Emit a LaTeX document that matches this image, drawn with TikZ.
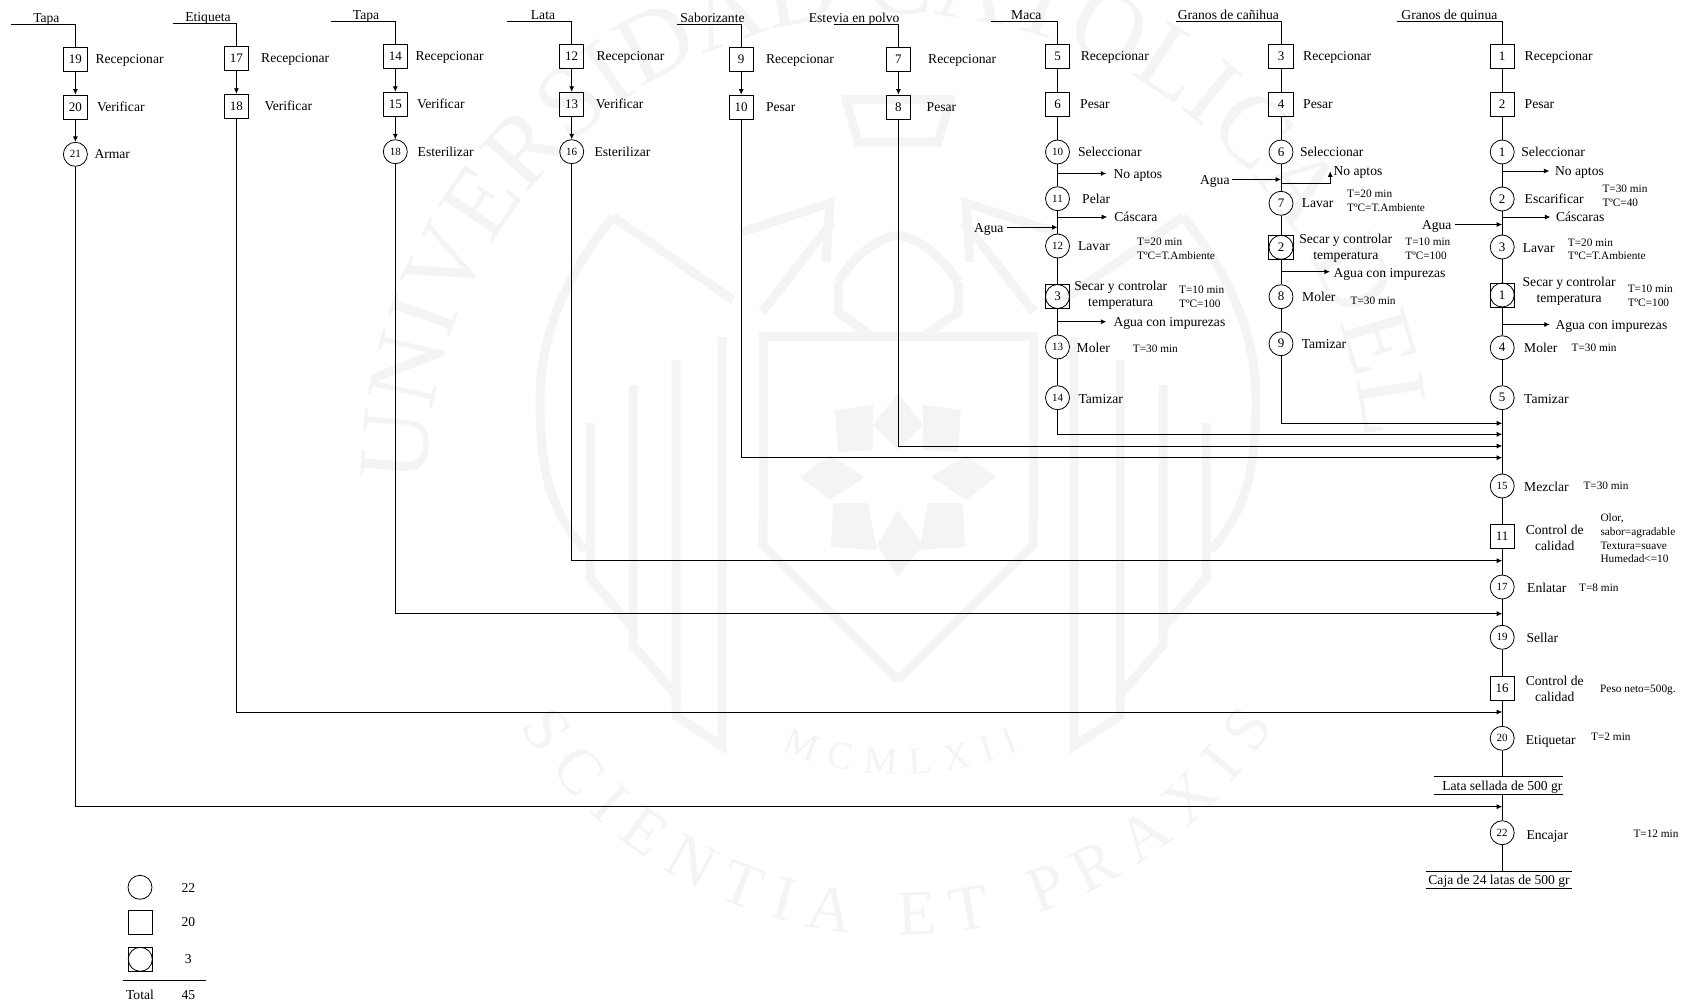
\documentclass[tikz,border=0pt]{standalone}
\usepackage{fontspec}
\setmainfont{Liberation Serif}
\usetikzlibrary{arrows.meta,decorations.text}
\newcommand\fl{\fontsize{13.6}{16}\selectfont}
\newcommand\fs{\fontsize{11.3}{13.7}\selectfont}
\newcommand\ft{\fontsize{11}{12}\selectfont}
\newcommand\fn{\fontsize{13}{15}\selectfont}
\newcommand\wmbig{\fontsize{100}{100}\selectfont\color{wmc}}
\newcommand\wmmid{\fontsize{64}{64}\selectfont\color{wmc}}
\newcommand\wmsm{\fontsize{38}{38}\selectfont\color{wmc}}
\definecolor{wmc}{gray}{0.955}
\newcommand\wmhalf{%
  \draw[wml] (613,217) .. controls (570,270) and (540,330) .. (540,400) .. controls (540,470) and (550,510) .. (585,550);
  \draw[wml] (613,217) -- (733,300);
  \draw[wml] (742,232) -- (830,203) -- (826,262);
  \draw[wml] (762,312) -- (832,222);
  \draw[wml] (838,282) .. controls (855,255) and (875,240) .. (898,235);
  \draw[wml] (838,282) -- (838,312) -- (872,336);
  \draw[wml] (763,520) -- (763,336) -- (898,336);
  \draw[wml] (590,423) -- (590,578) -- (633,628) -- (633,385);
  \draw[wml] (633,628) -- (633,645) -- (676,695) -- (676,360);
  \draw[wml] (676,695) -- (676,716) -- (722,746) -- (722,337);
  \draw[wml] (763,520) -- (763,545) -- (898,680);
  \draw[wml] (845,97) -- (858,142) -- (898,142);
  \draw[wml] (842,100) -- (898,100);
  \fill[wmc] (835,410) -- (873,405) -- (873,450) -- (838,452) -- cycle;
  \fill[wmc] (800,477) -- (830,455) -- (865,477) -- (830,500) -- cycle;
  \fill[wmc] (833,503) -- (868,503) -- (877,550) -- (831,547) -- cycle;
}
\tikzset{
  wml/.style={draw=wmc,line width=9pt,line join=miter},
  link/.style={draw=black,line width=.8pt},
  arr/.style={link,-{Latex[length=5.5pt,width=5pt]}},
  sq/.style={draw=black,line width=.8pt,rectangle,minimum width=24.3,minimum height=24,inner sep=0,font=\fn},
  cir/.style={draw=black,line width=.8pt,circle,minimum size=24,inner sep=0,font=\fn},
  cirs/.style={cir,font=\ft},
  lab/.style={anchor=west,inner sep=0,font=\fl,text height=11pt,text depth=1pt},
  tag/.style={anchor=west,inner sep=0,font=\fs,text height=8.5pt,text depth=1.5pt},
  tagg/.style={anchor=west,inner sep=0,font=\fs,align=left,yshift=-1.5pt},
  labc/.style={inner sep=0,font=\fl,align=center,yshift=-1.5pt},
  head/.style={lab,anchor=center,text height=10.5pt,text depth=1.5pt},
  rulebox/.style={inner sep=0,rectangle},
}
\begin{document}
\begin{tikzpicture}[x=1pt,y=-1pt]
\useasboundingbox (0,0) rectangle (1682,1003);
% watermark
\begin{scope}
\clip (0,0) rectangle (1682,1003);
\wmhalf
\begin{scope}[cm={-1,0,0,1,(1796pt,0pt)}]
\wmhalf
\end{scope}
\fill[wmc] (898,393) -- (923,425) -- (898,450) -- (873,425) -- cycle;
\fill[wmc] (898,510) -- (923,545) -- (898,577) -- (877,545) -- cycle;
\path[decorate,decoration={text along path,text align={fit to path},text={|\wmbig|UNIVERSIDAD CATOLICA DEL PERU}}]
  (427,484) .. controls (427,224) and (637,14) .. (897,14) .. controls (1157,14) and (1367,224) .. (1367,484);
\path[decorate,decoration={text along path,text align={fit to path},text={|\wmmid|SCIENTIA ET PRAXIS}}]
  (520,726) .. controls (694,1005) and (1100,1005) .. (1274,726);
\path[decorate,decoration={text along path,text align={fit to path},text={|\wmsm|MCMLXII}}]
  (782,750) .. controls (850,782) and (950,782) .. (1020,750);
\end{scope}

% ---------- Tapa (A)
\node[head] (hA) at (46.4,18) {Tapa};
\coordinate (oA) at (10.7,24);
\node[sq] (a19) at (75.4,59) {19};
\node[sq] (a20) at (75.4,107) {20};
\node[cirs] (a21) at (75.4,154.3) {21};
\node[lab] at (95.4,58.7) {Recepcionar};
\node[lab] at (96.8,106.7) {Verificar};
\node[lab] at (94.3,154) {Armar};
\draw[link] (oA) -| (a19);
\draw[arr] (a19) -- (a20);
\draw[arr] (a20) -- (a21);
% ---------- Etiqueta (B)
\node[head] (hB) at (208,17) {Etiqueta};
\coordinate (oB) at (172.5,23.7);
\node[sq] (b17) at (236.4,58.3) {17};
\node[sq] (b18) at (236.4,106.2) {18};
\node[lab] at (261,57.7) {Recepcionar};
\node[lab] at (264.3,105.7) {Verificar};
\draw[link] (oB) -| (b17);
\draw[arr] (b17) -- (b18);
% ---------- Tapa (C)
\node[head] (hC) at (366,14.7) {Tapa};
\coordinate (oC) at (330.7,21.3);
\node[sq] (c14) at (395.3,56.3) {14};
\node[sq] (c15) at (395.3,104.2) {15};
\node[cirs] (c18) at (395.3,151.7) {18};
\node[lab] at (415.4,55.7) {Recepcionar};
\node[lab] at (416.8,103.7) {Verificar};
\node[lab] at (417.5,151.7) {Esterilizar};
\draw[link] (oC) -| (c14);
\draw[arr] (c14) -- (c15);
\draw[arr] (c15) -- (c18);
% ---------- Lata (D)
\node[head] (hD) at (543,15) {Lata};
\coordinate (oD) at (507,21.3);
\node[sq] (d12) at (571.7,56.3) {12};
\node[sq] (d13) at (571.7,104.2) {13};
\node[cirs] (d16) at (571.7,151.7) {16};
\node[lab] at (596.3,55.7) {Recepcionar};
\node[lab] at (595.7,103.7) {Verificar};
\node[lab] at (594.3,151.7) {Esterilizar};
\draw[link] (oD) -| (d12);
\draw[arr] (d12) -- (d13);
\draw[arr] (d13) -- (d16);
% ---------- Saborizante (E)
\node[head] (hE) at (712.5,18) {Saborizante};
\coordinate (oE) at (676.7,24.3);
\node[sq] (e9) at (741.2,59) {9};
\node[sq] (e10) at (741.2,107) {10};
\node[lab] at (765.8,59) {Recepcionar};
\node[lab] at (765.8,107) {Pesar};
\draw[link] (oE) -| (e9);
\draw[arr] (e9) -- (e10);
% ---------- Estevia (F)
\node[head] (hF) at (854.2,18) {Estevia en polvo};
\coordinate (oF) at (834,24.3);
\node[sq] (f7) at (898.4,59) {7};
\node[sq] (f8) at (898.4,107) {8};
\node[lab] at (928,59) {Recepcionar};
\node[lab] at (926.5,107) {Pesar};
\draw[link] (oF) -| (f7);
\draw[arr] (f7) -- (f8);
% ---------- Maca (G)
\node[head] (hG) at (1026.3,15) {Maca};
\coordinate (oG) at (990.8,21.3);
\node[sq] (g5) at (1057.5,56.3) {5};
\node[sq] (g6) at (1057.5,104) {6};
\node[cirs] (g10) at (1057.5,152) {10};
\node[cirs] (g11) at (1057.5,198.7) {11};
\node[cirs] (g12) at (1057.5,246) {12};
\node[sq] (g3s) at (1057.5,296.5) {};
\node[cir] (g3) at (1057.5,296.5) {3};
\node[cirs] (g13) at (1057.5,347) {13};
\node[cirs] (g14) at (1057.5,397.7) {14};
\node[lab] at (1080.6,55.7) {Recepcionar};
\node[lab] at (1080,104) {Pesar};
\node[lab] at (1077.9,152) {Seleccionar};
\node[lab] at (1082,199) {Pelar};
\node[lab] at (1077.9,246) {Lavar};
\node[tagg] at (1137,247) {T=20 min\\TºC=T.Ambiente};
\node[labc] at (1120.7,293.6) {Secar y controlar\\temperatura};
\node[tagg] at (1179,295.5) {T=10 min\\TºC=100};
\node[lab] at (1076.5,347) {Moler};
\node[tag] at (1132.7,349.3) {T=30 min};
\node[lab] at (1078.3,398) {Tamizar};
\node[lab] (gNo) at (1113.3,173.5) {No aptos};
\node[lab] (gCa) at (1114.2,217) {Cáscara};
\node[lab] (gAg) at (973.8,227.3) {Agua};
\node[lab] (gIm) at (1113.3,321.7) {Agua con impurezas};
\coordinate (gNo0) at (1057.5,173.5);
\coordinate (gCa0) at (1057.5,217);
\coordinate (gAg1) at (1057.5,227.3);
\coordinate (gIm0) at (1057.5,321.7);
\draw[link] (oG) -| (g5);
\draw[link] (g5) -- (g6);
\draw[link] (g6) -- (g10);
\draw[link] (g10) -- (g11);
\draw[link] (g11) -- (g12);
\draw[link] (g12) -- (g3);
\draw[link] (g3) -- (g13);
\draw[link] (g13) -- (g14);
\draw[arr,shorten >=7pt] (gNo0) -- (gNo.west);
\draw[arr,shorten >=7pt] (gCa0) -- (gCa.west);
\draw[arr,shorten >=7pt] (gIm0) -- (gIm.west);
\draw[arr,shorten <=3pt] (gAg.east) -- (gAg1);
% ---------- Canihua (H)
\node[head] (hH) at (1228.4,15) {Granos de cañihua};
\coordinate (oH) at (1175.5,21.3);
\node[sq] (h3) at (1281,56.3) {3};
\node[sq] (h4) at (1281,104) {4};
\node[cir] (h6) at (1281,152) {6};
\node[cir] (h7) at (1281,203.3) {7};
\node[sq] (h2s) at (1281,247.3) {};
\node[cir] (h2) at (1281,247.3) {2};
\node[cir] (h8) at (1281,296.7) {8};
\node[cir] (h9) at (1281,343.7) {9};
\node[lab] at (1303,55.7) {Recepcionar};
\node[lab] at (1303,104) {Pesar};
\node[lab] at (1299.8,152) {Seleccionar};
\node[lab] at (1301.6,203) {Lavar};
\node[tagg] at (1347,199) {T=20 min\\TºC=T.Ambiente};
\node[labc] at (1345.8,247) {Secar y controlar\\temperatura};
\node[tagg] at (1405.2,247.5) {T=10 min\\TºC=100};
\node[lab] at (1302,296.7) {Moler};
\node[tag] at (1350.4,300.7) {T=30 min};
\node[lab] at (1301.6,343.7) {Tamizar};
\node[lab] (hNo) at (1333.4,171) {No aptos};
\node[lab] (hAg) at (1199.9,179.5) {Agua};
\node[lab] (hIm) at (1333.4,272.5) {Agua con impurezas};
\coordinate (hAg1) at (1281,179.5);
\coordinate (hNo0) at (1281,183.3);
\coordinate (hNo1) at (1330.2,171.3);
\coordinate (hIm0) at (1281,271.7);
\draw[link] (oH) -| (h3);
\draw[link] (h3) -- (h4);
\draw[link] (h4) -- (h6);
\draw[link] (h6) -- (h7);
\draw[link] (h7) -- (h2);
\draw[link] (h2) -- (h8);
\draw[link] (h8) -- (h9);
\draw[arr,shorten <=2pt] (hAg.east) -- (hAg1);
\draw[arr] (hNo0) -| (hNo1);
\draw[arr,shorten >=3.5pt] (hIm0) -- (hIm0 -| hIm.west);
% ---------- Quinua (I)
\node[head] (hI) at (1449.4,15) {Granos de quinua};
\coordinate (oI) at (1397,21.3);
\node[sq] (i1) at (1502.2,56.3) {1};
\node[sq] (i2) at (1502.2,104) {2};
\node[cir] (q1) at (1502.2,152) {1};
\node[cir] (q2) at (1502.2,199) {2};
\node[cir] (q3) at (1502.2,247) {3};
\node[sq] (t1s) at (1502.2,295) {};
\node[cir] (t1) at (1502.2,295) {1};
\node[cir] (q4) at (1502.2,347.7) {4};
\node[cir] (q5) at (1502.2,397.7) {5};
\node[cirs] (q15) at (1502.2,486) {15};
\node[sq] (i11) at (1502.2,536.7) {11};
\node[cirs] (q17) at (1502.2,587) {17};
\node[cirs] (q19) at (1502.2,637.3) {19};
\node[sq] (i16) at (1502.2,688.3) {16};
\node[cirs] (q20) at (1502.2,738.3) {20};
\node[rulebox,minimum width=128.7,minimum height=17] (lataB) at (1498.7,785.5) {};
\node[head] (lataT) at (1502.4,785.7) {Lata sellada de 500 gr};
\node[cirs] (q22) at (1502.2,832.7) {22};
\node[rulebox,minimum width=145.4,minimum height=16.7] (cajaB) at (1499,879.6) {};
\node[head] (cajaT) at (1499,879.6) {Caja de 24 latas de 500 gr};
\draw[link] (lataB.north west) -- (lataB.north east);
\draw[link] (lataB.south west) -- (lataB.south east);
\draw[link] (cajaB.north west) -- (cajaB.north east);
\draw[link] (cajaB.south west) -- (cajaB.south east);
\node[lab] at (1524.5,55.7) {Recepcionar};
\node[lab] at (1524.5,104) {Pesar};
\node[lab] at (1521.2,152) {Seleccionar};
\node[lab] at (1524.5,199) {Escarificar};
\node[tagg] at (1602.3,194.5) {T=30 min\\TºC=40};
\node[lab] at (1522.6,248) {Lavar};
\node[tagg] at (1567.7,247.8) {T=20 min\\TºC=T.Ambiente};
\node[labc] at (1569.1,290) {Secar y controlar\\temperatura};
\node[tagg] at (1627.6,294.5) {T=10 min\\TºC=100};
\node[lab] at (1524,347) {Moler};
\node[tag] at (1571.4,348) {T=30 min};
\node[lab] at (1524,398) {Tamizar};
\node[lab] at (1524,486) {Mezclar};
\node[tag] at (1583.3,486) {T=30 min};
\node[labc] at (1554.7,536.8) {Control de\\calidad};
\node[tagg] at (1600.3,537) {Olor,\\sabor=agradable\\Textura=suave\\Humedad<=10};
\node[lab] at (1527,587) {Enlatar};
\node[tag] at (1579,588) {T=8 min};
\node[lab] at (1526.3,637.5) {Sellar};
\node[labc] at (1554.7,687.7) {Control de\\calidad};
\node[tag] at (1600,689) {Peso neto=500g.};
\node[lab] at (1525.7,739) {Etiquetar};
\node[tag] at (1591,737) {T=2 min};
\node[lab] at (1526.3,834) {Encajar};
\node[tag] at (1633.3,834) {T=12 min};
\node[lab] (iNo) at (1554.9,171) {No aptos};
\node[lab] (iCa) at (1555.8,217) {Cáscaras};
\node[lab] (iAg) at (1421.8,224.5) {Agua};
\node[lab] (iIm) at (1555.3,324.5) {Agua con impurezas};
\coordinate (iNo0) at (1502.2,171);
\coordinate (iCa0) at (1502.2,217);
\coordinate (iAg1) at (1502.2,224.5);
\coordinate (iIm0) at (1502.2,324.5);
\draw[link] (oI) -| (i1);
\draw[link] (i1) -- (i2);
\draw[link] (i2) -- (q1);
\draw[link] (q1) -- (q2);
\draw[link] (q2) -- (q3);
\draw[link] (q3) -- (t1);
\draw[link] (t1) -- (q4);
\draw[link] (q4) -- (q5);
\draw[link] (q5) -- (q15);
\draw[link] (q15) -- (i11);
\draw[link] (i11) -- (q17);
\draw[link] (q17) -- (q19);
\draw[link] (q19) -- (i16);
\draw[link] (i16) -- (q20);
\draw[link] (q20) -- (q20 |- lataB.north);
\draw[link] (q22 |- lataB.south) -- (q22);
\draw[link] (q22) -- (q22 |- cajaB.north);
\draw[arr,shorten >=5.5pt] (iNo0) -- (iNo.west);
\draw[arr,shorten >=5.5pt] (iCa0) -- (iCa.west);
\draw[arr,shorten >=5.5pt] (iIm0) -- (iIm.west);
\draw[arr,shorten <=3pt] (iAg.east) -- (iAg1);
% ---------- Feeders into the main line
\coordinate (jH) at (1502.2,423.3);
\coordinate (jG) at (1502.2,434.3);
\coordinate (jF) at (1502.2,446);
\coordinate (jE) at (1502.2,457.7);
\coordinate (jD) at (1502.2,560.7);
\coordinate (jC) at (1502.2,613.7);
\coordinate (jB) at (1502.2,712);
\coordinate (jA) at (1502.2,806.7);
\draw[arr] (h9) |- (jH);
\draw[arr] (g14) |- (jG);
\draw[arr] (f8) |- (jF);
\draw[arr] (e10) |- (jE);
\draw[arr] (d16) |- (jD);
\draw[arr] (c18) |- (jC);
\draw[arr] (b18) |- (jB);
\draw[arr] (a21) |- (jA);
% ---------- Legend
\node[cir] (lc) at (140,887.3) {};
\node[sq] (ls) at (140.3,922.8) {};
\node[sq] (lbs) at (140.3,959.3) {};
\node[cir] (lbc) at (140.3,959.3) {};
\node[head] at (188.3,887.7) {22};
\node[head] at (188.3,922.3) {20};
\node[head] at (188.3,959.3) {3};
\coordinate (lr0) at (123.3,980);
\coordinate (lr1) at (205.7,980);
\draw[link] (lr0) -- (lr1);
\node[head] (lt) at (140,994.7) {Total};
\node[head] (ln) at (188.3,995) {45};
\end{tikzpicture}
\end{document}
